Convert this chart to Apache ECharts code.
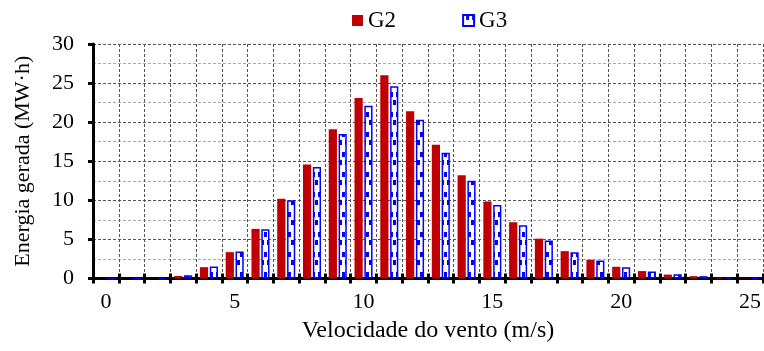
<!DOCTYPE html>
<html><head><meta charset="utf-8">
<script src="https://cdn.jsdelivr.net/npm/echarts@6/dist/echarts.min.js"></script>
<style>html,body{margin:0;padding:0;background:#fff}#c{width:764px;height:351px}</style>
</head><body><div id="c"></div>
<script>
const categories = ['0','1','2','3','4','5','6','7','8','9','10','11','12','13','14','15','16','17','18','19','20','21','22','23','24','25'];
const seriesG2 = [0,0,0,0.33,1.45,3.37,6.35,10.2,14.6,19.1,23.1,26.0,21.4,17.1,13.2,9.85,7.2,5.1,3.5,2.4,1.5,0.95,0.5,0.3,0.1,0.05];
const seriesG3 = [0,0,0,0.43,1.54,3.45,6.3,10.0,14.25,18.5,22.1,24.6,20.3,16.1,12.5,9.4,6.8,4.85,3.35,2.3,1.45,0.9,0.55,0.3,0.15,0.05];
const seriesNames = ['G2','G3'];
const yTicks = [0,5,10,15,20,25,30];

const FONT = 'Liberation Serif';
const pc = document.createElement('canvas');
pc.width = 6; pc.height = 20;
const ctx = pc.getContext('2d');
ctx.fillStyle = '#ffffff'; ctx.fillRect(0,0,6,20);
ctx.fillStyle = '#0000ff';
ctx.fillRect(3,0,3,5);
ctx.fillRect(0,12,3,5);

const chart = echarts.init(document.getElementById('c'), null, {renderer:'canvas'});
chart.setOption({
  animation:false,
  backgroundColor:'#fff',
  legend:{
    data:seriesNames, left:347, top:4, icon:'rect', itemWidth:11, itemHeight:11, itemGap:66,
    textStyle:{fontFamily:FONT, fontSize:23, color:'#000'}
  },
  grid:{left:93, right:1, top:44, bottom:72.5},
  xAxis:[{
    type:'category', data:categories, boundaryGap:true, position:'bottom',
    name:'Velocidade do vento (m/s)', nameLocation:'middle', nameGap:38,
    nameTextStyle:{fontFamily:FONT, fontSize:24, color:'#000'},
    axisLine:{lineStyle:{color:'#000', width:3}},
    axisTick:{show:true, interval:0, length:5, lineStyle:{color:'#000', width:3}},
    axisLabel:{interval:4, fontFamily:FONT, fontSize:22, color:'#000', margin:13},
    splitLine:{show:true, interval:0, lineStyle:{color:'#555', type:[3,2], width:1}}
  },{
    type:'category', data:categories, boundaryGap:true, position:'bottom',
    axisLine:{show:false},
    axisTick:{show:true, inside:true, interval:0, length:5, lineStyle:{color:'#000', width:3}},
    axisLabel:{show:false}, splitLine:{show:false}
  }],
  yAxis:{
    type:'value', min:yTicks[0], max:yTicks[yTicks.length-1], interval:5,
    name:'Energia gerada (MW·h)', nameLocation:'middle', nameGap:59, nameRotate:90,
    nameTextStyle:{fontFamily:FONT, fontSize:22, color:'#000'},
    axisLine:{show:true, lineStyle:{color:'#000', width:3}},
    axisTick:{show:true, length:5, lineStyle:{color:'#000', width:3}},
    axisLabel:{fontFamily:FONT, fontSize:22, color:'#000', margin:19},
    splitLine:{show:true, lineStyle:{color:'#555', type:[3,2], width:1}},
    minorTick:{show:false, splitNumber:2},
    minorSplitLine:{show:true, lineStyle:{color:'#aaa', type:[3,2], width:1}}
  },
  series:[{
    name:seriesNames[0], type:'bar', data:seriesG2, xAxisIndex:0,
    barGap:'20%', barCategoryGap:'30%',
    itemStyle:{color:'#c00000'}
  },{
    name:seriesNames[1], type:'bar', data:seriesG3, xAxisIndex:0,
    barGap:'20%', barCategoryGap:'30%',
    itemStyle:{color:{image:pc, repeat:'repeat'}, borderColor:'#0000ff', borderWidth:1.5}
  }]
});
</script></body></html>
